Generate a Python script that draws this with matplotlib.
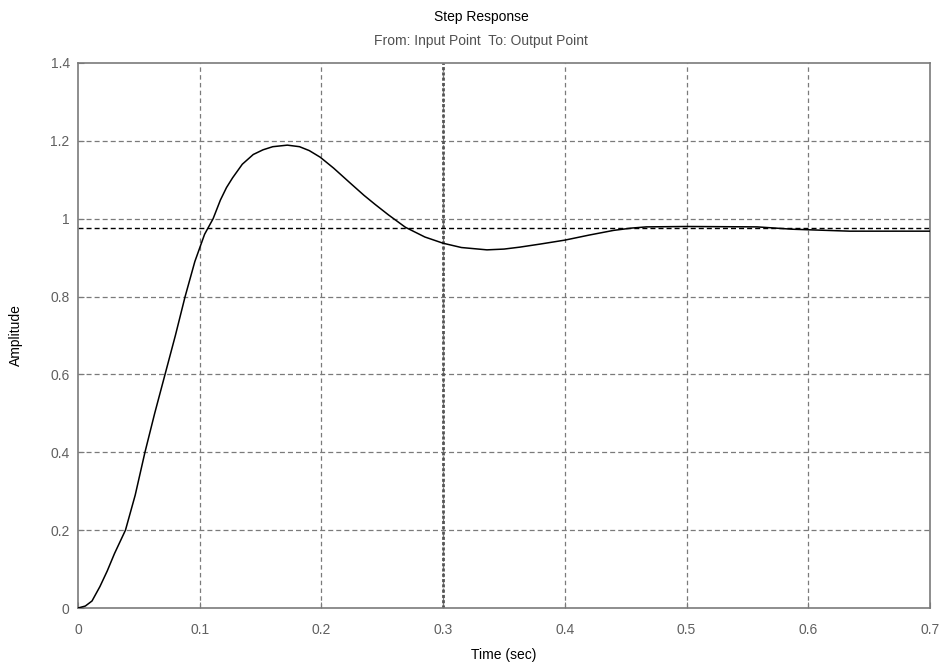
import numpy as np
import matplotlib
matplotlib.use('Agg')
import matplotlib.pyplot as plt

plt.close('all')
plt.rcParams['font.family'] = ['Liberation Sans', 'DejaVu Sans']
plt.rcParams['lines.scale_dashes'] = False

# step response samples (time in s, amplitude)
t = [0.0, 0.006, 0.0115, 0.018, 0.024, 0.03, 0.039, 0.047, 0.055, 0.063,
     0.0715, 0.08, 0.088, 0.096, 0.104, 0.111, 0.117, 0.122, 0.127, 0.135,
     0.144, 0.152, 0.16, 0.172, 0.182, 0.19, 0.199, 0.21, 0.2235, 0.235,
     0.244, 0.255, 0.269, 0.285, 0.3, 0.315, 0.336, 0.35, 0.363, 0.38,
     0.4, 0.42, 0.44, 0.455, 0.467, 0.5, 0.558, 0.587, 0.634, 0.7]
amp = [0.0, 0.005, 0.018, 0.055, 0.095, 0.14, 0.2, 0.29, 0.4, 0.5,
       0.6, 0.7, 0.8, 0.89, 0.96, 1.0, 1.048, 1.08, 1.105, 1.14,
       1.165, 1.177, 1.185, 1.189, 1.185, 1.175, 1.158, 1.13, 1.092, 1.06,
       1.037, 1.01, 0.978, 0.953, 0.937, 0.926, 0.920, 0.922, 0.927, 0.935,
       0.945, 0.958, 0.970, 0.976, 0.979, 0.980, 0.979, 0.973, 0.968, 0.968]

final_value = 0.976
settle_time = 0.3

xticks = [0, 0.1, 0.2, 0.3, 0.4, 0.5, 0.6, 0.7]
xlabels = ['0', '0.1', '0.2', '0.3', '0.4', '0.5', '0.6', '0.7']
yticks = [0, 0.2, 0.4, 0.6, 0.8, 1.0, 1.2, 1.4]
ylabels = ['0', '0.2', '0.4', '0.6', '0.8', '1', '1.2', '1.4']

grey = '#7a7a7a'

fig = plt.figure(figsize=(9.45, 6.64), dpi=100)
ax = fig.add_axes([78 / 945, 1 - 608 / 664, (930 - 78) / 945, (608 - 63) / 664])

# grid
for xv in xticks[1:-1]:
    ax.axvline(xv, color=grey, lw=0.9, dashes=(3.2, 2.4), zorder=1)
for yv in yticks[1:-1]:
    ax.axhline(yv, color=grey, lw=0.9, dashes=(3.6, 2.2), zorder=1)

# settling time and final value markers
ax.axvline(settle_time, color='#555555', lw=2.0, dashes=(2.2, 1.6), zorder=2)
ax.axhline(final_value, color='black', lw=1.0, dashes=(3.6, 2.2), zorder=2)

ax.plot(t, amp, '-k', lw=1.1, zorder=3)

ax.set_xlim(0, 0.7)
ax.set_ylim(0, 1.4)
ax.set_xticks(xticks)
ax.set_xticklabels(xlabels)
ax.set_yticks(yticks)
ax.set_yticklabels(ylabels)
ax.tick_params(direction='in', length=4, color=grey, labelcolor='#606060',
               labelsize=10, pad=6)
ax.tick_params(axis='x', pad=11)
for s in ax.spines.values():
    s.set_color(grey)
    s.set_linewidth(1.2)

ax.set_xlabel('Time (sec)', fontsize=10, labelpad=8)
ax.set_ylabel('Amplitude', fontsize=10, labelpad=20)

fig.text(481 / 945, 1 - 17 / 664, 'Step Response', ha='center', va='center',
         fontsize=10)
fig.text(481 / 945, 1 - 41 / 664, 'From: Input Point  To: Output Point',
         ha='center', va='center', fontsize=10, color='#505050')

fig.savefig('out.png', dpi=100)
